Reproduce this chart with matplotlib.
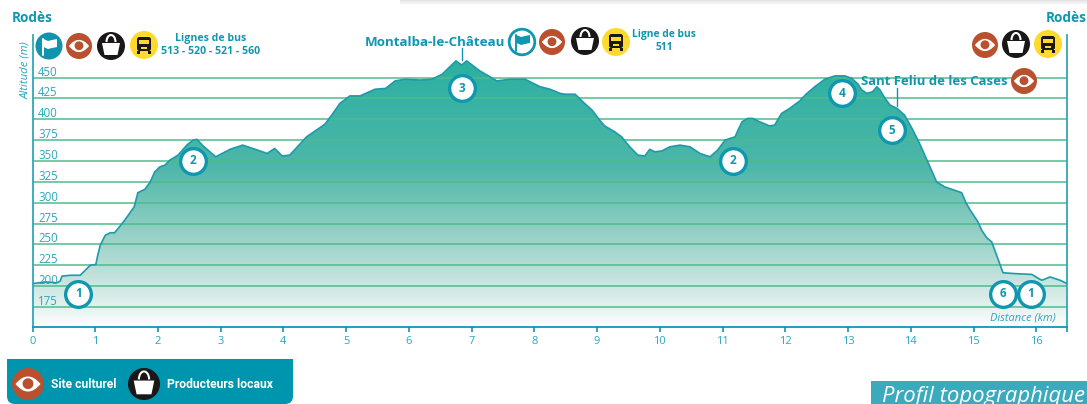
import numpy as np
import matplotlib
matplotlib.use("Agg")
import matplotlib.pyplot as plt
from matplotlib.colors import LinearSegmentedColormap
from matplotlib.patches import Circle, Rectangle, Polygon, FancyBboxPatch, PathPatch, Arc
from matplotlib.path import Path

plt.rcParams['font.family'] = ['Open Sans', 'DejaVu Sans']

# profil : distance (km) / altitude (m)
dist = [0, .20, .39, .44, .47, .60, .76, .84, .92, 1.01, 1.04, 1.08, 1.16, 1.24, 1.31, 1.47, 1.62, 1.68, 1.79, 1.87,
        1.95, 2.03, 2.11, 2.19, 2.32, 2.46, 2.56, 2.62, 2.72, 2.92, 3.15, 3.35, 3.55, 3.74, 3.86, 3.98, 4.10, 4.26,
        4.37, 4.66, 4.77, 4.90, 5.06, 5.22, 5.46, 5.63, 5.78, 5.94, 6.18, 6.37, 6.53, 6.75, 6.84, 6.92, 7.13, 7.29,
        7.40, 7.61, 7.85, 8.01, 8.09, 8.25, 8.41, 8.49, 8.65, 8.80, 8.92, 9.04, 9.12, 9.28, 9.39, 9.52, 9.65, 9.76,
        9.84, 9.92, 10.03, 10.16, 10.32, 10.48, 10.64, 10.80, 10.92, 11.04, 11.12, 11.20, 11.24, 11.31, 11.40, 11.48,
        11.59, 11.75, 11.83, 11.94, 12.07, 12.23, 12.33, 12.47, 12.63, 12.79, 12.95, 13.06, 13.16, 13.22, 13.30,
        13.39, 13.46, 13.51, 13.59, 13.67, 13.78, 13.90, 14.02, 14.14, 14.33, 14.41, 14.54, 14.81, 14.88, 14.94,
        15.07, 15.13, 15.21, 15.29, 15.47, 15.66, 15.93, 16.04, 16.09, 16.22, 16.38, 16.49]
alt = [203, 205, 204, 206, 212, 213, 213, 219, 225, 226, 237, 249, 261, 264, 264, 279, 295, 312, 316, 324,
       337, 343, 345, 351, 357, 369, 375, 376, 368, 355, 364, 369, 364, 359, 365, 356, 357, 370,
       379, 394, 405, 419, 428, 428, 436, 437, 446, 448, 447, 448, 454, 470, 465, 470, 458, 451,
       446, 448, 448, 442, 439, 436, 431, 430, 430, 419, 411, 399, 392, 385, 379, 367, 357, 356,
       364, 361, 362, 367, 369, 367, 359, 355, 363, 375, 377, 379, 386, 397, 401, 401,
       397, 392, 393, 407, 413, 422, 430, 439, 448, 452, 452, 449, 442, 435, 431,
       433, 439, 435, 425, 417, 413, 405, 389, 371, 339, 325, 319, 312, 300, 292,
       277, 267, 258, 253, 216, 215, 214, 209, 207, 211, 207, 203]

alt_ticks = [450, 425, 400, 375, 350, 325, 300, 275, 250, 225, 200, 175]
km_ticks = list(range(17))

# points numerotes
pt_labels = ['1', '2', '3', '2', '4', '5', '6', '1']
pt_km = [0.73, 2.56, 6.84, 11.17, 12.90, 13.70, 15.47, 15.91]
pt_alt = [191, 350, 437, 350, 431, 387, 191, 191]

TEAL = '#0f97b0'
TXT = '#2da6bc'
GRID = '#4dbb8a'
W, H = 1087, 404

fig = plt.figure(figsize=(W / 100, H / 100), dpi=100)
ax = fig.add_axes([32.5 / W, 1 - 327 / H, (1067 - 32.5) / W, (327 - 35) / H])
xmax, ymin, ymax = dist[-1], 151, 501

# degrade sous le profil
cmap = LinearSegmentedColormap.from_list('profil', [
    (0.0, '#2bb0a1'), (0.40, '#4db7a9'), (0.62, '#8ccdc2'), (0.76, '#b2dcd4'), (0.90, '#dceeea'), (1.0, '#fdfefe')])
grad = np.linspace(0, 1, 256).reshape(-1, 1)
im = ax.imshow(grad, cmap=cmap, aspect='auto', extent=[0, xmax, ymin, 471], zorder=1)
clip = Polygon(list(zip(dist, alt)) + [(xmax, ymin), (0, ymin)], closed=True, transform=ax.transData, fc='none', ec='none')
ax.add_patch(clip)
im.set_clip_path(clip)

for a in alt_ticks:
    ax.axhline(a, color=GRID, lw=1.2, alpha=0.9, zorder=2)
    ax.text(0.09, a - 1.2, str(a), color=TXT, fontsize=8.3, va='bottom', ha='left', zorder=2.5)
ax.plot(dist, alt, color='#1f9aaa', lw=1.2, zorder=3)

ax.plot(pt_km, pt_alt, 'o', ms=18.5, mfc='white', mec=TEAL, mew=2.4, ls='none', zorder=5)
for lab, k, a in zip(pt_labels, pt_km, pt_alt):
    ax.text(k, a, lab, color=TEAL, fontsize=8.5, fontweight='bold', ha='center', va='center', zorder=6)

ax.set_xlim(0, xmax)
ax.set_ylim(ymin, ymax)
ax.set_yticks([])
ax.set_xticks(km_ticks)
ax.set_xticks([xmax], minor=True)
ax.tick_params(axis='x', which='both', length=3.5, width=1.2, color=TEAL, labelcolor=TXT, labelsize=8, pad=3)
ax.patch.set_alpha(0)
ax.spines['top'].set_visible(False)
ax.spines['left'].set_color('#2fa7b9')
ax.spines['right'].set_color('#2fa7b9')
ax.spines['bottom'].set_color(TEAL)
for s in ax.spines.values():
    s.set_linewidth(1.3)
ax.text(15.79, 162, 'Distance (km)', color=TXT, fontsize=7.9, style='italic', ha='center', va='center', zorder=6)

# calque en pixels pour les pictos et titres
ov = fig.add_axes([0, 0, 1, 1])
ov.axis('off')
ov.patch.set_alpha(0)

# ombre en haut
shadow = np.linspace(0.88, 1, 32).reshape(-1, 1)
ov.imshow(shadow, cmap='gray', vmin=0, vmax=1, aspect='auto', extent=[400, W, 5, 0], zorder=0)
ov.set_xlim(0, W)
ov.set_ylim(H, 0)


def flag(x, y, r, outlined=False):
    if outlined:
        ov.add_patch(Circle((x, y), r - 1.2, fc='white', ec='#0f97b0', lw=2))
        c = '#0f97b0'
    else:
        ov.add_patch(Circle((x, y), r, fc='#0f93ae', ec='none'))
        c = 'white'
    ov.plot([x - 6, x - 6], [y - 7, y + 9], color=c, lw=1.4, solid_capstyle='round')
    ov.add_patch(Polygon([(x - 5.5, y - 7), (x - 1, y - 5), (x + 3, y - 6), (x + 8, y - 7), (x + 8, y + 1),
                          (x + 3, y + 2), (x - 1, y + 3), (x - 5.5, y + 1)], fc=c, ec='none'))


def eye(x, y, r):
    ov.add_patch(Circle((x, y), r, fc='#b9502e', ec='none'))
    w, h = r * 0.78, r * 0.95
    verts = [(x - w, y), (x, y - h), (x + w, y), (x, y + h), (x - w, y)]
    codes = [Path.MOVETO, Path.CURVE3, Path.CURVE3, Path.CURVE3, Path.CURVE3]
    ov.add_patch(PathPatch(Path(verts, codes), fc='white', ec='none'))
    ov.add_patch(Circle((x, y - r * 0.02), r * 0.34, fc='#b9502e', ec='none'))


def bag(x, y, r):
    ov.add_patch(Circle((x, y), r, fc='#1a1718', ec='none'))
    s = r / 14
    ov.add_patch(Polygon([(x - 9 * s, y - 3 * s), (x + 9 * s, y - 3 * s), (x + 6.5 * s, y + 9 * s), (x - 6.5 * s, y + 9 * s)],
                         fc='white', ec='none'))
    ov.add_patch(Arc((x, y - 4 * s), 9 * s, 14 * s, theta1=180, theta2=360, ec='white', lw=1.5))


def bus(x, y, r):
    ov.add_patch(Circle((x, y), r, fc='#ffd92e', ec='none'))
    ov.add_patch(FancyBboxPatch((x - 7, y - 8), 14, 14, boxstyle='round,pad=0,rounding_size=2.5', fc='#1a1718', ec='none'))
    ov.add_patch(Rectangle((x - 5, y - 5.5), 10, 4.5, fc='#ffd92e', ec='none'))
    ov.add_patch(Rectangle((x - 3, y + 2), 6, 2, fc='#ffd92e', ec='none'))
    ov.add_patch(Rectangle((x - 7, y + 6), 3, 3, fc='#1a1718', ec='none'))
    ov.add_patch(Rectangle((x + 4, y + 6), 3, 3, fc='#1a1718', ec='none'))


flag(49, 46, 13.5)
eye(79, 46, 13)
bag(111, 46, 14)
bus(144, 45, 14)
flag(522, 42, 14, outlined=True)
eye(552, 42, 13)
bag(585, 41, 14)
bus(616, 42, 14)
eye(985, 45, 13)
bag(1016, 44, 14)
bus(1048, 44, 14)
eye(1024, 81, 13)

ov.text(12, 18.5, 'Rodès', color=TEAL, fontsize=9.8, fontweight='bold', va='center', ha='left')
ov.text(1087, 18.5, 'Rodès', color=TEAL, fontsize=9.8, fontweight='bold', va='center', ha='right')
ov.text(211, 38, 'Lignes de bus', color=TEAL, fontsize=7.6, fontweight='bold', va='center', ha='center')
ov.text(211, 52, '513 - 520 - 521 - 560', color=TEAL, fontsize=7.6, fontweight='bold', va='center', ha='center')
ov.text(664, 35, 'Ligne de bus', color=TEAL, fontsize=7.4, fontweight='bold', va='center', ha='center')
ov.text(664, 48, '511', color=TEAL, fontsize=7.4, fontweight='bold', va='center', ha='center')
ov.text(505, 42, 'Montalba-le-Château', color=TEAL, fontsize=9.6, fontweight='bold', va='center', ha='right')
ov.text(1008, 81.5, 'Sant Feliu de les Cases', color=TEAL, fontsize=9.45, fontweight='bold', va='center', ha='right')
ov.plot([462, 462], [48, 60], color=TEAL, lw=1)
ov.plot([896.5, 896.5], [88, 106], color=TEAL, lw=1)
ov.text(26, 70, 'Altitude (m)', color=TXT, fontsize=8.2, style='italic', rotation=90, va='center', ha='center')

# legende, coins arrondis en bas seulement
lx0, lx1, ly0, ly1, rc = 7, 293, 359, 404, 8
box = Path([(lx0, ly0), (lx1, ly0), (lx1, ly1 - rc), (lx1, ly1), (lx1 - rc, ly1), (lx0 + rc, ly1), (lx0, ly1),
            (lx0, ly1 - rc), (lx0, ly0)],
           [Path.MOVETO, Path.LINETO, Path.LINETO, Path.CURVE3, Path.CURVE3, Path.LINETO, Path.CURVE3, Path.CURVE3,
            Path.CLOSEPOLY])
ov.add_patch(PathPatch(box, fc='#0095ae', ec='none'))
eye(28, 384, 16)
bag(144, 384, 16)
ov.text(51, 385, 'Site culturel', color='white', fontsize=8.7, fontweight='bold', va='center', ha='left', family='Roboto')
ov.text(167, 385, 'Producteurs locaux', color='white', fontsize=8.7, fontweight='bold', va='center', ha='left', family='Roboto')

# titre bas droite
ov.add_patch(Rectangle((871, 381), 216, 23, fc='#3baabd', ec='none'))
ov.text(882, 402, 'Profil topographique', color='white', fontsize=15.9, style='italic', va='baseline', ha='left')

fig.savefig('out.png', dpi=100)
